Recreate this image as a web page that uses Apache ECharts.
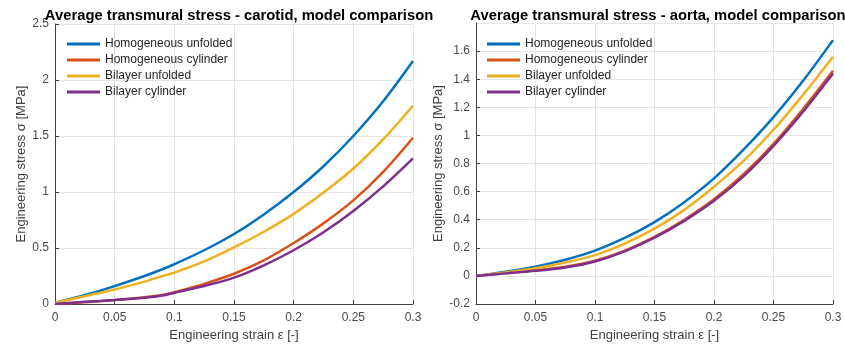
<!DOCTYPE html>
<html><head><meta charset="utf-8">
<script src="https://cdn.jsdelivr.net/npm/echarts@6/dist/echarts.min.js"></script>
<style>html,body{margin:0;padding:0;background:#fff}#c{width:845px;height:347px}</style>
</head><body><div id="c"></div>
<script>
const seriesNames = ['Homogeneous unfolded','Homogeneous cylinder','Bilayer unfolded','Bilayer cylinder'];
const colors = ['#0072BD','#D95319','#EDB120','#7E2F8E'];

// Carotid (left)
const carotidStrain = [0,0.025,0.05,0.075,0.09,0.1,0.125,0.15,0.175,0.2,0.225,0.25,0.275,0.3];
const carHomUnf = [0.01,0.08,0.16,0.25,0.31,0.355,0.48,0.625,0.80,1.0,1.23,1.50,1.81,2.17];
const carHomCyl = [0.0,0.015,0.035,0.06,0.08,0.105,0.18,0.27,0.39,0.545,0.72,0.925,1.18,1.485];
const carBiUnf  = [0.01,0.07,0.13,0.2,0.25,0.28,0.38,0.505,0.645,0.805,0.995,1.21,1.47,1.77];
const carBiCyl  = [0.0,0.02,0.035,0.055,0.075,0.1,0.16,0.235,0.345,0.48,0.64,0.83,1.05,1.30];

// Aorta (right)
const aortaStrain = [0,0.025,0.05,0.075,0.1,0.125,0.15,0.175,0.2,0.225,0.25,0.275,0.3];
const aoHomUnf = [0,0.03,0.066,0.115,0.18,0.27,0.383,0.525,0.694,0.9,1.13,1.39,1.678];
const aoHomCyl = [0,0.02,0.04,0.065,0.108,0.18,0.278,0.40,0.545,0.725,0.94,1.19,1.46];
const aoBiUnf  = [0,0.025,0.054,0.095,0.148,0.23,0.336,0.47,0.635,0.82,1.04,1.29,1.56];
const aoBiCyl  = [0,0.018,0.036,0.06,0.103,0.175,0.272,0.392,0.535,0.71,0.925,1.17,1.44];

const titles = ['Average transmural stress - carotid, model comparison','Average transmural stress - aorta, model comparison'];
const xName = 'Engineering strain ε [-]';
const yName = 'Engineering stress σ [MPa]';

const font = "'Liberation Sans', Arial, sans-serif";
function pairs(xs, ys){ return xs.map((x,i)=>[x, ys[i]]); }
const leftData = [carHomUnf, carHomCyl, carBiUnf, carBiCyl].map(a=>pairs(carotidStrain,a));
const rightData = [aoHomUnf, aoHomCyl, aoBiUnf, aoBiCyl].map(a=>pairs(aortaStrain,a));

function xAxis(gi){
  return {type:'value', gridIndex:gi, min:0, max:0.3, interval:0.05,
    name:xName, nameLocation:'middle', nameGap:25,
    nameTextStyle:{fontFamily:font,fontSize:13,color:'#404040'},
    axisLine:{show:true,onZero:false,lineStyle:{color:'#404040',width:1}},
    axisTick:{show:true,inside:true,length:4,lineStyle:{color:'#404040'}},
    axisLabel:{fontFamily:font,fontSize:12,color:'#4a4a4a',margin:8, formatter:v=>String(+v.toFixed(2))},
    splitLine:{show:true,lineStyle:{color:'#e4e4e4',width:1}}};
}
function yAxis(gi,min,max,interval,nameGap,hideMax){
  return {type:'value', gridIndex:gi, min:min, max:max, interval:interval,
    name:yName, nameLocation:'middle', nameGap:nameGap, nameRotate:90,
    nameTextStyle:{fontFamily:font,fontSize:13,color:'#404040'},
    axisLine:{show:true,lineStyle:{color:'#404040',width:1}},
    axisTick:{show:true,inside:true,length:4,lineStyle:{color:'#404040'}},
    axisLabel:{fontFamily:font,fontSize:12,color:'#4a4a4a',margin:6,showMaxLabel:!hideMax, formatter:v=>String(+v.toFixed(2))},
    splitLine:{show:true,lineStyle:{color:'#e4e4e4',width:1}}};
}
const series = [];
[leftData, rightData].forEach((set,gi)=>{
  set.forEach((d,i)=>{
    series.push({name:seriesNames[i], type:'line', xAxisIndex:gi, yAxisIndex:gi, data:d,
      showSymbol:false, smooth:0.3, lineStyle:{width:2.5,color:colors[i]}, itemStyle:{color:colors[i]}, z: 2+i});
  });
});

const chart = echarts.init(document.getElementById('c'), null, {renderer:'canvas'});
chart.setOption({
  animation:false,
  color:colors,
  title:[
    {text:titles[0], left:234, top:3, textAlign:'center', textStyle:{fontFamily:font,fontSize:14.8,fontWeight:'bold',color:'#000'}},
    {text:titles[1], left:653, top:3, textAlign:'center', textStyle:{fontFamily:font,fontSize:14.8,fontWeight:'bold',color:'#000'}}
  ],
  legend:[
    {data:seriesNames, orient:'vertical', left:62, top:31, itemWidth:33, itemHeight:3, itemGap:0, icon:'rect',
      textStyle:{fontFamily:font,fontSize:12,color:'#262626',lineHeight:16}},
    {data:seriesNames, orient:'vertical', left:482, top:31, itemWidth:33, itemHeight:3, itemGap:0, icon:'rect',
      textStyle:{fontFamily:font,fontSize:12,color:'#262626',lineHeight:16}}
  ],
  grid:[
    {left:55, right:432, top:24, bottom:41, containLabel:false},
    {left:476, right:12, top:23, bottom:41, containLabel:false}
  ],
  xAxis:[xAxis(0), xAxis(1)],
  yAxis:[yAxis(0,0,2.5,0.5,27,false), yAxis(1,-0.2,1.8,0.2,31,true)],
  series:series
});
</script></body></html>
